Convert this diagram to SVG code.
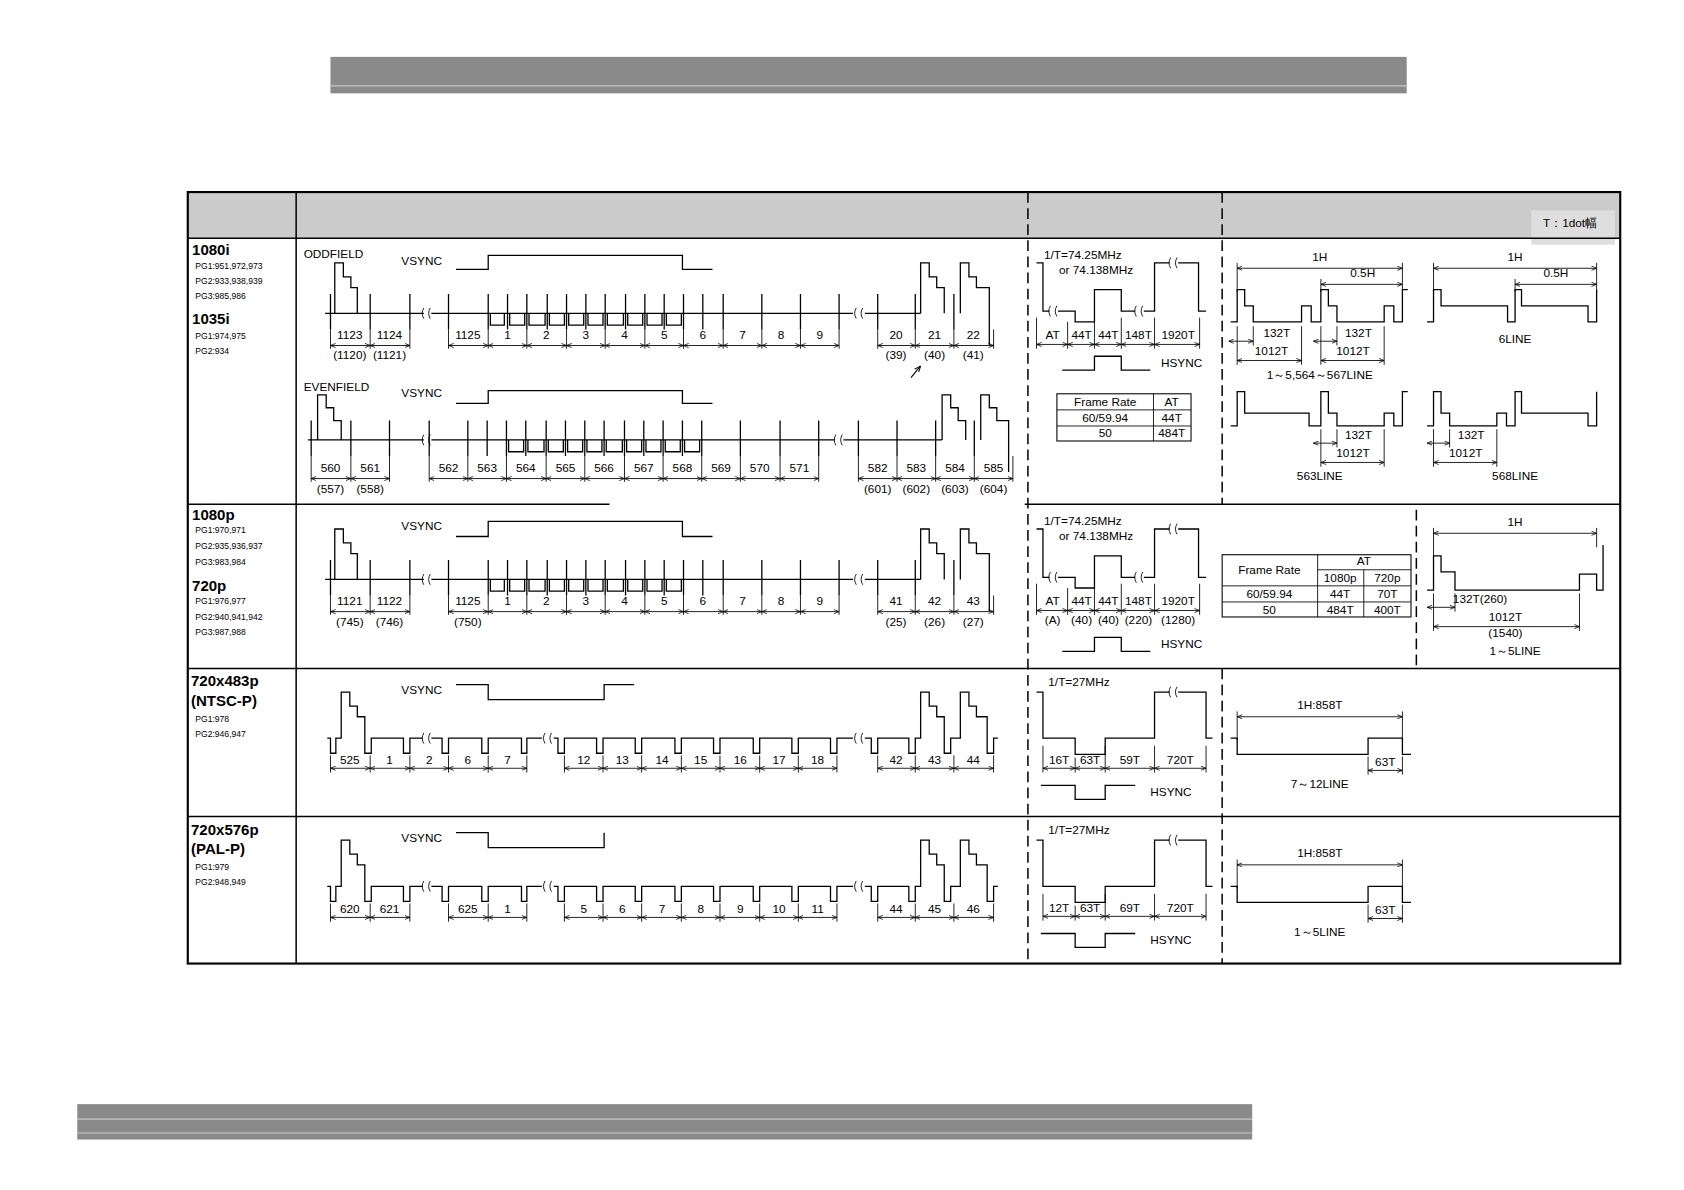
<svg xmlns="http://www.w3.org/2000/svg" xmlns:xlink="http://www.w3.org/1999/xlink" width="1684" height="1190" viewBox="0 0 1684 1190">
<style>
.w{fill:none;stroke:#000;stroke-width:1.2}
.t{font-family:"Liberation Sans",Arial,sans-serif;font-size:11px;fill:#000}
.c{text-anchor:middle}
.s{font-size:8px}
.b{font-weight:bold;font-size:14px}
.dm{stroke:#000;stroke-width:0.8;marker-start:url(#ar);marker-end:url(#ar)}
.tk{stroke:#000;stroke-width:0.8;fill:none}
.ds{stroke:#000;stroke-width:1.4;stroke-dasharray:10,5;fill:none}
.gl{stroke:#000;stroke-width:1.4}
</style>
<defs>
<marker id="ar" viewBox="0 0 10 10" refX="10" refY="5" markerWidth="6" markerHeight="6" orient="auto-start-reverse"><path d="M0,1 L10,5 L0,9" fill="none" stroke="#000" stroke-width="1.5"/></marker>
<path id="brk" d="M-3,-5 q-3,5 0,10 M3,-5 q-3,5 0,10" fill="none" stroke="#000" stroke-width="0.8"/>
<g id="waveA">
<path class="w" d="M303,292H395M402,292H795M806,292H858"/>
<path class="w" d="M312,292V245H320V258H327V268H333V292M858,292V245H866V258H873V268H880V292M895,292V245H903V258H910V268H922V322"/>
<path class="w" d="M457,292V303H470V292M475,292V303H489V292M493,292V303H508V292M512,292V303H526V292M530,292V303H544V292M548,292V303H562V292M566,292V303H581V292M585,292V303H599V292M603,292V303H617V292M621,292V303H635V292"/>
<path class="w" d="M308,274V307M345,274V307M382,274V307M418,274V307M455,274V307M473,274V307M491,274V307M510,274V307M528,274V307M546,274V307M564,274V307M583,274V307M601,274V307M619,274V307M637,274V307M655,274V307M674,274V307M710,274V307M746,274V307M782,274V307M818,274V307M853,274V307M889,274V307"/>
<use href="#brk" x="398" y="292"/><use href="#brk" x="801" y="292"/>
</g>
<g id="waveD">
<path class="w" d="M305,688H308V702H313V688H318V645H326V658H333V668H340V702H346V688H376V702H382V688H394M402,688H412V702H418V688H449V702H455V688H486V702H491V688H505M516,688H520V702H526V688H556V702H562V688H592V702H598V688H629V702H635V688H665V702H671V688H702V702H708V688H738V702H744V688H774V702H780V688H795M806,688H812V702H818V688H847V702H853V688H858V645H866V658H873V668H880V702H886V688H895V645H903V658H910V668H920V702H926V688H930"/>
<use href="#brk" x="398" y="688"/><use href="#brk" x="511" y="688"/><use href="#brk" x="801" y="688"/>
</g>
<g id="hA">
<path class="w" d="M966,245H972V290H978M986,290H1002V300H1020V270H1045V290H1058M1066,290H1076V245H1090M1098,245H1117V290H1124"/>
<use href="#brk" x="982" y="290"/><use href="#brk" x="1062" y="290"/><use href="#brk" x="1094" y="245"/>
<path class="tk" d="M966,296V325M995,300V325M1020,300V325M1045,296V325M1076,296V325M1118,296V325"/>
<line class="dm" x1="966" y1="321" x2="995" y2="321"/><line class="dm" x1="995" y1="321" x2="1020" y2="321"/><line class="dm" x1="1020" y1="321" x2="1045" y2="321"/><line class="dm" x1="1045" y1="321" x2="1076" y2="321"/><line class="dm" x1="1076" y1="321" x2="1118" y2="321"/>
<text class="t c" x="981" y="316">AT</text><text class="t c" x="1008" y="316">44T</text><text class="t c" x="1033" y="316">44T</text><text class="t c" x="1061" y="316">148T</text><text class="t c" x="1098" y="316">1920T</text>
</g>
<g id="hsA">
<path class="w" d="M990,345H1020V332H1045V345H1072"/>
<text class="t" x="1082" y="342">HSYNC</text>
</g>
<g id="hD">
<path class="w" d="M966,645H972V688H1002V703H1030V688H1076V645H1090M1098,645H1124V688H1130"/>
<use href="#brk" x="1094" y="645"/>
<path class="tk" d="M972,695V720M1002,706V720M1030,695V720M1076,695V720M1124,695V720"/>
<line class="dm" x1="972" y1="716" x2="1002" y2="716"/><line class="dm" x1="1002" y1="716" x2="1030" y2="716"/><line class="dm" x1="1030" y1="716" x2="1076" y2="716"/><line class="dm" x1="1076" y1="716" x2="1124" y2="716"/>
<path class="w" d="M970,732H1002V745H1030V732H1058"/>
<text class="t" x="1072" y="742">HSYNC</text>
</g>
</defs>
<rect width="1684" height="1190" fill="#fff"/>
<g transform="scale(1.073)">
<g id="bars">
<rect x="308" y="53" width="1003" height="34" fill="#8a8a8a"/><line x1="308" y1="80" x2="1311" y2="80" stroke="#c8c8c8"/>
<rect x="72" y="1029" width="1095" height="33" fill="#8a8a8a"/><line x1="72" y1="1043" x2="1167" y2="1043" stroke="#c8c8c8"/><line x1="72" y1="1056" x2="1167" y2="1056" stroke="#c8c8c8"/>
</g>
<g id="table">
<rect x="175" y="179" width="1335" height="43" fill="#cbcbcb"/>
<rect x="1427" y="196" width="78" height="32" fill="#dedede"/>
<text class="t" x="1438" y="212">T：1dot幅</text>
<rect x="175" y="179" width="1335" height="719" fill="none" stroke="#000" stroke-width="2"/>
<line class="gl" x1="175" y1="222" x2="1510" y2="222"/>
<line class="gl" x1="276" y1="179" x2="276" y2="898"/>
<line class="gl" x1="175" y1="470" x2="568" y2="470"/><line class="gl" x1="955" y1="470" x2="1510" y2="470"/>
<line class="gl" x1="175" y1="623" x2="1510" y2="623"/>
<line class="gl" x1="175" y1="761" x2="1510" y2="761"/>
<path class="ds" d="M958,179V898M1139,179V470M1139,623V898M1320,475V623"/>
</g>
<g id="labels">
<text class="t b" x="179" y="238">1080i</text>
<text class="t s" x="182" y="251">PG1:951,972,973</text><text class="t s" x="182" y="265">PG2:933,938,939</text><text class="t s" x="182" y="279">PG3:985,986</text>
<text class="t b" x="179" y="302">1035i</text>
<text class="t s" x="182" y="316">PG1:974,975</text><text class="t s" x="182" y="330">PG2:934</text>
<text class="t b" x="179" y="485">1080p</text>
<text class="t s" x="182" y="497">PG1:970,971</text><text class="t s" x="182" y="512">PG2:935,936,937</text><text class="t s" x="182" y="527">PG3:983,984</text>
<text class="t b" x="179" y="551">720p</text>
<text class="t s" x="182" y="563">PG1:976,977</text><text class="t s" x="182" y="578">PG2:940,941,942</text><text class="t s" x="182" y="592">PG3:987,988</text>
<text class="t b" x="178" y="639">720x483p</text><text class="t b" x="178" y="658">(NTSC-P)</text>
<text class="t s" x="182" y="673">PG1:978</text><text class="t s" x="182" y="687">PG2:946,947</text>
<text class="t b" x="178" y="778">720x576p</text><text class="t b" x="178" y="796">(PAL-P)</text>
<text class="t s" x="182" y="811">PG1:979</text><text class="t s" x="182" y="825">PG2:948,949</text>
</g>
<g id="odd">
<text class="t" x="283" y="240">ODDFIELD</text><text class="t" x="374" y="247">VSYNC</text>
<path class="w" d="M425,251H455V238H636V251H664"/>
<use href="#waveA"/>
<g>
<line class="dm" x1="308" y1="322" x2="345" y2="322"/><line class="dm" x1="345" y1="322" x2="382" y2="322"/>
<line class="dm" x1="418" y1="322" x2="455" y2="322"/><line class="dm" x1="455" y1="322" x2="491" y2="322"/><line class="dm" x1="491" y1="322" x2="528" y2="322"/><line class="dm" x1="528" y1="322" x2="564" y2="322"/><line class="dm" x1="564" y1="322" x2="601" y2="322"/><line class="dm" x1="601" y1="322" x2="637" y2="322"/><line class="dm" x1="637" y1="322" x2="674" y2="322"/><line class="dm" x1="674" y1="322" x2="710" y2="322"/><line class="dm" x1="710" y1="322" x2="746" y2="322"/><line class="dm" x1="746" y1="322" x2="782" y2="322"/>
<line class="dm" x1="818" y1="322" x2="853" y2="322"/><line class="dm" x1="853" y1="322" x2="889" y2="322"/><line class="dm" x1="889" y1="322" x2="926" y2="322"/>
<path class="tk" d="M308,307V325M345,307V325M382,307V325M418,307V325M455,307V325M491,307V325M528,307V325M564,307V325M601,307V325M637,307V325M674,307V325M710,307V325M746,307V325M782,307V325M818,307V325M853,307V325M889,307V325M926,307V325"/>
</g>
<text class="t c" x="326" y="316">1123</text><text class="t c" x="363" y="316">1124</text><text class="t c" x="436" y="316">1125</text><text class="t c" x="473" y="316">1</text><text class="t c" x="509" y="316">2</text><text class="t c" x="546" y="316">3</text><text class="t c" x="582" y="316">4</text><text class="t c" x="619" y="316">5</text><text class="t c" x="655" y="316">6</text><text class="t c" x="692" y="316">7</text><text class="t c" x="728" y="316">8</text><text class="t c" x="764" y="316">9</text><text class="t c" x="835" y="316">20</text><text class="t c" x="871" y="316">21</text><text class="t c" x="907" y="316">22</text>
<text class="t c" x="326" y="335">(1120)</text><text class="t c" x="363" y="335">(1121)</text><text class="t c" x="835" y="335">(39)</text><text class="t c" x="871" y="335">(40)</text><text class="t c" x="907" y="335">(41)</text>
<line x1="849" y1="352" x2="858" y2="341" stroke="#000" stroke-width="1" marker-end="url(#ar)"/>
</g>
<g id="even">
<text class="t" x="283" y="364">EVENFIELD</text><text class="t" x="374" y="370">VSYNC</text>
<path class="w" d="M425,376H455V364H636V376H664"/>
<path class="w" d="M287,410H395M402,410H778M786,410H878"/>
<path class="w" d="M296,410V368H304V380H311V392H318V410M878,410V368H886V380H893V392H900V410M914,410V368H922V380H929V392H940V440"/>
<path class="w" d="M474,410V421H488V410M492,410V421H507V410M511,410V421H525V410M529,410V421H543V410M547,410V421H561V410M565,410V421H580V410M584,410V421H598V410M602,410V421H616V410M620,410V421H634V410M638,410V421H652V410"/>
<path class="w" d="M290,392V425M327,392V425M363,392V425M400,392V425M436,392V425M454,392V425M472,392V425M490,392V425M509,392V425M527,392V425M545,392V425M563,392V425M582,392V425M600,392V425M618,392V425M636,392V425M654,392V425M690,392V425M727,392V425M763,392V425M800,392V425M836,392V425M872,392V425M908,392V425"/>
<use href="#brk" x="398" y="410"/><use href="#brk" x="782" y="410"/>
<line class="dm" x1="290" y1="446" x2="327" y2="446"/><line class="dm" x1="327" y1="446" x2="363" y2="446"/>
<line class="dm" x1="400" y1="446" x2="436" y2="446"/><line class="dm" x1="436" y1="446" x2="472" y2="446"/><line class="dm" x1="472" y1="446" x2="509" y2="446"/><line class="dm" x1="509" y1="446" x2="545" y2="446"/><line class="dm" x1="545" y1="446" x2="582" y2="446"/><line class="dm" x1="582" y1="446" x2="618" y2="446"/><line class="dm" x1="618" y1="446" x2="654" y2="446"/><line class="dm" x1="654" y1="446" x2="690" y2="446"/><line class="dm" x1="690" y1="446" x2="727" y2="446"/><line class="dm" x1="727" y1="446" x2="763" y2="446"/>
<line class="dm" x1="800" y1="446" x2="836" y2="446"/><line class="dm" x1="836" y1="446" x2="872" y2="446"/><line class="dm" x1="872" y1="446" x2="908" y2="446"/><line class="dm" x1="908" y1="446" x2="944" y2="446"/>
<path class="tk" d="M290,425V449M327,425V449M363,425V449M400,425V449M436,425V449M472,425V449M509,425V449M545,425V449M582,425V449M618,425V449M654,425V449M690,425V449M727,425V449M763,425V449M800,425V449M836,425V449M872,425V449M908,425V449M944,425V449"/>
<text class="t c" x="308" y="440">560</text><text class="t c" x="345" y="440">561</text><text class="t c" x="418" y="440">562</text><text class="t c" x="454" y="440">563</text><text class="t c" x="490" y="440">564</text><text class="t c" x="527" y="440">565</text><text class="t c" x="563" y="440">566</text><text class="t c" x="600" y="440">567</text><text class="t c" x="636" y="440">568</text><text class="t c" x="672" y="440">569</text><text class="t c" x="708" y="440">570</text><text class="t c" x="745" y="440">571</text><text class="t c" x="818" y="440">582</text><text class="t c" x="854" y="440">583</text><text class="t c" x="890" y="440">584</text><text class="t c" x="926" y="440">585</text>
<text class="t c" x="308" y="459">(557)</text><text class="t c" x="345" y="459">(558)</text><text class="t c" x="818" y="459">(601)</text><text class="t c" x="854" y="459">(602)</text><text class="t c" x="890" y="459">(603)</text><text class="t c" x="926" y="459">(604)</text>
</g>
<g id="p1080">
<text class="t" x="374" y="494">VSYNC</text>
<path class="w" d="M425,500H455V486H636V500H664"/>
<use href="#waveA" y="248"/>
<line class="dm" x1="308" y1="570" x2="345" y2="570"/><line class="dm" x1="345" y1="570" x2="382" y2="570"/>
<line class="dm" x1="418" y1="570" x2="455" y2="570"/><line class="dm" x1="455" y1="570" x2="491" y2="570"/><line class="dm" x1="491" y1="570" x2="528" y2="570"/><line class="dm" x1="528" y1="570" x2="564" y2="570"/><line class="dm" x1="564" y1="570" x2="601" y2="570"/><line class="dm" x1="601" y1="570" x2="637" y2="570"/><line class="dm" x1="637" y1="570" x2="674" y2="570"/><line class="dm" x1="674" y1="570" x2="710" y2="570"/><line class="dm" x1="710" y1="570" x2="746" y2="570"/><line class="dm" x1="746" y1="570" x2="782" y2="570"/>
<line class="dm" x1="818" y1="570" x2="853" y2="570"/><line class="dm" x1="853" y1="570" x2="889" y2="570"/><line class="dm" x1="889" y1="570" x2="926" y2="570"/>
<path class="tk" d="M308,555V573M345,555V573M382,555V573M418,555V573M455,555V573M491,555V573M528,555V573M564,555V573M601,555V573M637,555V573M674,555V573M710,555V573M746,555V573M782,555V573M818,555V573M853,555V573M889,555V573M926,555V573"/>
<text class="t c" x="326" y="564">1121</text><text class="t c" x="363" y="564">1122</text><text class="t c" x="436" y="564">1125</text><text class="t c" x="473" y="564">1</text><text class="t c" x="509" y="564">2</text><text class="t c" x="546" y="564">3</text><text class="t c" x="582" y="564">4</text><text class="t c" x="619" y="564">5</text><text class="t c" x="655" y="564">6</text><text class="t c" x="692" y="564">7</text><text class="t c" x="728" y="564">8</text><text class="t c" x="764" y="564">9</text><text class="t c" x="835" y="564">41</text><text class="t c" x="871" y="564">42</text><text class="t c" x="907" y="564">43</text>
<text class="t c" x="326" y="583">(745)</text><text class="t c" x="363" y="583">(746)</text><text class="t c" x="436" y="583">(750)</text><text class="t c" x="835" y="583">(25)</text><text class="t c" x="871" y="583">(26)</text><text class="t c" x="907" y="583">(27)</text>
</g>
<g id="ntsc">
<text class="t" x="374" y="647">VSYNC</text>
<path class="w" d="M425,638H455V652H563V638H591"/>
<use href="#waveD"/>
<line class="dm" x1="308" y1="716" x2="345" y2="716"/><line class="dm" x1="345" y1="716" x2="382" y2="716"/><line class="dm" x1="382" y1="716" x2="418" y2="716"/><line class="dm" x1="418" y1="716" x2="455" y2="716"/><line class="dm" x1="455" y1="716" x2="491" y2="716"/>
<line class="dm" x1="526" y1="716" x2="562" y2="716"/><line class="dm" x1="562" y1="716" x2="598" y2="716"/><line class="dm" x1="598" y1="716" x2="635" y2="716"/><line class="dm" x1="635" y1="716" x2="671" y2="716"/><line class="dm" x1="671" y1="716" x2="708" y2="716"/><line class="dm" x1="708" y1="716" x2="744" y2="716"/><line class="dm" x1="744" y1="716" x2="780" y2="716"/>
<line class="dm" x1="818" y1="716" x2="853" y2="716"/><line class="dm" x1="853" y1="716" x2="889" y2="716"/><line class="dm" x1="889" y1="716" x2="926" y2="716"/>
<path class="tk" d="M308,704V720M345,704V720M382,704V720M418,704V720M455,704V720M491,704V720M526,704V720M562,704V720M598,704V720M635,704V720M671,704V720M708,704V720M744,704V720M780,704V720M818,704V720M853,704V720M889,704V720M926,704V720"/>
<text class="t c" x="326" y="712">525</text><text class="t c" x="363" y="712">1</text><text class="t c" x="400" y="712">2</text><text class="t c" x="436" y="712">6</text><text class="t c" x="473" y="712">7</text><text class="t c" x="544" y="712">12</text><text class="t c" x="580" y="712">13</text><text class="t c" x="617" y="712">14</text><text class="t c" x="653" y="712">15</text><text class="t c" x="690" y="712">16</text><text class="t c" x="726" y="712">17</text><text class="t c" x="762" y="712">18</text><text class="t c" x="835" y="712">42</text><text class="t c" x="871" y="712">43</text><text class="t c" x="907" y="712">44</text>
</g>
<g id="pal">
<text class="t" x="374" y="785">VSYNC</text>
<path class="w" d="M425,776H455V790H563V776"/>
<use href="#waveD" y="138"/>
<line class="dm" x1="308" y1="855" x2="345" y2="855"/><line class="dm" x1="345" y1="855" x2="382" y2="855"/><line class="dm" x1="418" y1="855" x2="455" y2="855"/><line class="dm" x1="455" y1="855" x2="491" y2="855"/>
<line class="dm" x1="526" y1="855" x2="562" y2="855"/><line class="dm" x1="562" y1="855" x2="598" y2="855"/><line class="dm" x1="598" y1="855" x2="635" y2="855"/><line class="dm" x1="635" y1="855" x2="671" y2="855"/><line class="dm" x1="671" y1="855" x2="708" y2="855"/><line class="dm" x1="708" y1="855" x2="744" y2="855"/><line class="dm" x1="744" y1="855" x2="780" y2="855"/>
<line class="dm" x1="818" y1="855" x2="853" y2="855"/><line class="dm" x1="853" y1="855" x2="889" y2="855"/><line class="dm" x1="889" y1="855" x2="926" y2="855"/>
<path class="tk" d="M308,842V859M345,842V859M382,842V859M418,842V859M455,842V859M491,842V859M526,842V859M562,842V859M598,842V859M635,842V859M671,842V859M708,842V859M744,842V859M780,842V859M818,842V859M853,842V859M889,842V859M926,842V859"/>
<text class="t c" x="326" y="851">620</text><text class="t c" x="363" y="851">621</text><text class="t c" x="436" y="851">625</text><text class="t c" x="473" y="851">1</text><text class="t c" x="544" y="851">5</text><text class="t c" x="580" y="851">6</text><text class="t c" x="617" y="851">7</text><text class="t c" x="653" y="851">8</text><text class="t c" x="690" y="851">9</text><text class="t c" x="726" y="851">10</text><text class="t c" x="762" y="851">11</text><text class="t c" x="835" y="851">44</text><text class="t c" x="871" y="851">45</text><text class="t c" x="907" y="851">46</text>
</g>
<g id="hsyncA">
<text class="t" x="973" y="241">1/T=74.25MHz</text><text class="t" x="987" y="255">or 74.138MHz</text>
<use href="#hA"/><use href="#hsA"/>
<rect x="985" y="367" width="125" height="44" fill="none" stroke="#000"/>
<path class="tk" d="M985,382H1110M985,397H1110M1075,367V411"/>
<text class="t c" x="1030" y="378">Frame Rate</text><text class="t c" x="1092" y="378">AT</text>
<text class="t c" x="1030" y="393">60/59.94</text><text class="t c" x="1092" y="393">44T</text>
<text class="t c" x="1030" y="407">50</text><text class="t c" x="1092" y="407">484T</text>
</g>
<g id="hsyncC">
<text class="t" x="973" y="489">1/T=74.25MHz</text><text class="t" x="987" y="503">or 74.138MHz</text>
<use href="#hA" y="248"/><use href="#hsA" y="262"/>
<text class="t c" x="981" y="582">(A)</text><text class="t c" x="1008" y="582">(40)</text><text class="t c" x="1033" y="582">(40)</text><text class="t c" x="1061" y="582">(220)</text><text class="t c" x="1098" y="582">(1280)</text>
<rect x="1139" y="517" width="176" height="58" fill="none" stroke="#000"/>
<path class="tk" d="M1228,531H1315M1139,546H1315M1139,561H1315M1228,517V575M1271,531V575"/>
<text class="t c" x="1183" y="535">Frame Rate</text><text class="t c" x="1271" y="527">AT</text>
<text class="t c" x="1249" y="542">1080p</text><text class="t c" x="1293" y="542">720p</text>
<text class="t c" x="1183" y="557">60/59.94</text><text class="t c" x="1249" y="557">44T</text><text class="t c" x="1293" y="557">70T</text>
<text class="t c" x="1183" y="572">50</text><text class="t c" x="1249" y="572">484T</text><text class="t c" x="1293" y="572">400T</text>
</g>
<g id="hsyncD">
<text class="t" x="977" y="639">1/T=27MHz</text>
<use href="#hD"/>
<text class="t c" x="987" y="712">16T</text><text class="t c" x="1016" y="712">63T</text><text class="t c" x="1053" y="712">59T</text><text class="t c" x="1100" y="712">720T</text>
</g>
<g id="hsyncE">
<text class="t" x="977" y="777">1/T=27MHz</text>
<use href="#hD" y="138"/>
<text class="t c" x="987" y="850">12T</text><text class="t c" x="1016" y="850">63T</text><text class="t c" x="1053" y="850">69T</text><text class="t c" x="1100" y="850">720T</text>
</g>
<g id="vA">
<text class="t c" x="1230" y="243">1H</text><line class="dm" x1="1153" y1="250" x2="1307" y2="250"/>
<text class="t c" x="1270" y="258">0.5H</text><line class="dm" x1="1231" y1="265" x2="1307" y2="265"/>
<path class="tk" d="M1153,245V272M1231,260V272M1307,245V272"/>
<path class="w" d="M1147,300H1153V270H1160V285H1168V300H1213V285H1222V300H1231V270H1238V285H1246V300H1290V285H1299V300H1307V270H1312"/>
<path class="tk" d="M1168,304V322M1153,304V340M1213,304V340M1231,304V340M1246,304V322M1290,304V340"/>
<line class="dm" x1="1145" y1="318" x2="1168" y2="318"/><text class="t c" x="1190" y="314">132T</text>
<line class="dm" x1="1153" y1="336" x2="1213" y2="336"/><text class="t c" x="1185" y="331">1012T</text>
<line class="dm" x1="1224" y1="318" x2="1246" y2="318"/><text class="t c" x="1266" y="314">132T</text>
<line class="dm" x1="1231" y1="336" x2="1290" y2="336"/><text class="t c" x="1261" y="331">1012T</text>
<text class="t c" x="1230" y="353">1～5,564～567LINE</text>
<text class="t c" x="1412" y="243">1H</text><line class="dm" x1="1336" y1="250" x2="1488" y2="250"/>
<text class="t c" x="1450" y="258">0.5H</text><line class="dm" x1="1412" y1="265" x2="1488" y2="265"/>
<path class="tk" d="M1336,245V272M1412,260V272M1488,245V272"/>
<path class="w" d="M1330,300H1336V270H1343V285H1405V300H1412V270H1418V285H1480V300H1488V270"/>
<text class="t c" x="1412" y="320">6LINE</text>
<path class="w" d="M1147,397H1153V365H1160V385H1220V397H1231V365H1238V385H1246V397H1290V385H1299V397H1307V365H1312"/>
<path class="tk" d="M1246,400V417M1231,400V435M1290,400V435"/>
<line class="dm" x1="1224" y1="413" x2="1246" y2="413"/><text class="t c" x="1266" y="409">132T</text>
<line class="dm" x1="1231" y1="431" x2="1290" y2="431"/><text class="t c" x="1261" y="426">1012T</text>
<text class="t c" x="1230" y="447">563LINE</text>
<path class="w" d="M1330,397H1336V365H1343V385H1351V397H1395V385H1404V397H1412V365H1418V385H1480V397H1488V365"/>
<path class="tk" d="M1351,400V417M1336,400V435M1395,400V435"/>
<line class="dm" x1="1330" y1="413" x2="1351" y2="413"/><text class="t c" x="1371" y="409">132T</text>
<line class="dm" x1="1336" y1="431" x2="1395" y2="431"/><text class="t c" x="1366" y="426">1012T</text>
<text class="t c" x="1412" y="447">568LINE</text>
</g>
<g id="vC">
<text class="t c" x="1412" y="490">1H</text><line class="dm" x1="1336" y1="497" x2="1488" y2="497"/>
<path class="tk" d="M1336,492V520M1488,492V510"/>
<path class="w" d="M1330,550H1336V518H1343V533H1356V550H1472V535H1488V550H1494V508"/>
<path class="tk" d="M1356,553V570M1336,553V588M1472,553V588"/>
<line class="dm" x1="1330" y1="566" x2="1356" y2="566"/><text class="t" x="1354" y="562">132T(260)</text>
<line class="dm" x1="1336" y1="584" x2="1472" y2="584"/><text class="t c" x="1403" y="579">1012T</text>
<text class="t c" x="1403" y="594">(1540)</text>
<text class="t c" x="1412" y="610">1～5LINE</text>
</g>
<g id="vD">
<text class="t c" x="1230" y="661">1H:858T</text><line class="dm" x1="1153" y1="668" x2="1307" y2="668"/>
<path class="tk" d="M1153,663V690M1307,663V690M1275,705V722M1307,705V722"/>
<path class="w" d="M1147,688H1153V703H1275V688H1307V703H1315"/>
<line class="dm" x1="1275" y1="718" x2="1307" y2="718"/><text class="t c" x="1291" y="714">63T</text>
<text class="t c" x="1230" y="734">7～12LINE</text>
</g>
<g id="vE">
<text class="t c" x="1230" y="799">1H:858T</text><line class="dm" x1="1153" y1="806" x2="1307" y2="806"/>
<path class="tk" d="M1153,801V828M1307,801V828M1275,843V860M1307,843V860"/>
<path class="w" d="M1147,826H1153V841H1275V826H1307V841H1315"/>
<line class="dm" x1="1275" y1="856" x2="1307" y2="856"/><text class="t c" x="1291" y="852">63T</text>
<text class="t c" x="1230" y="872">1～5LINE</text>
</g>
</g>
</svg>
